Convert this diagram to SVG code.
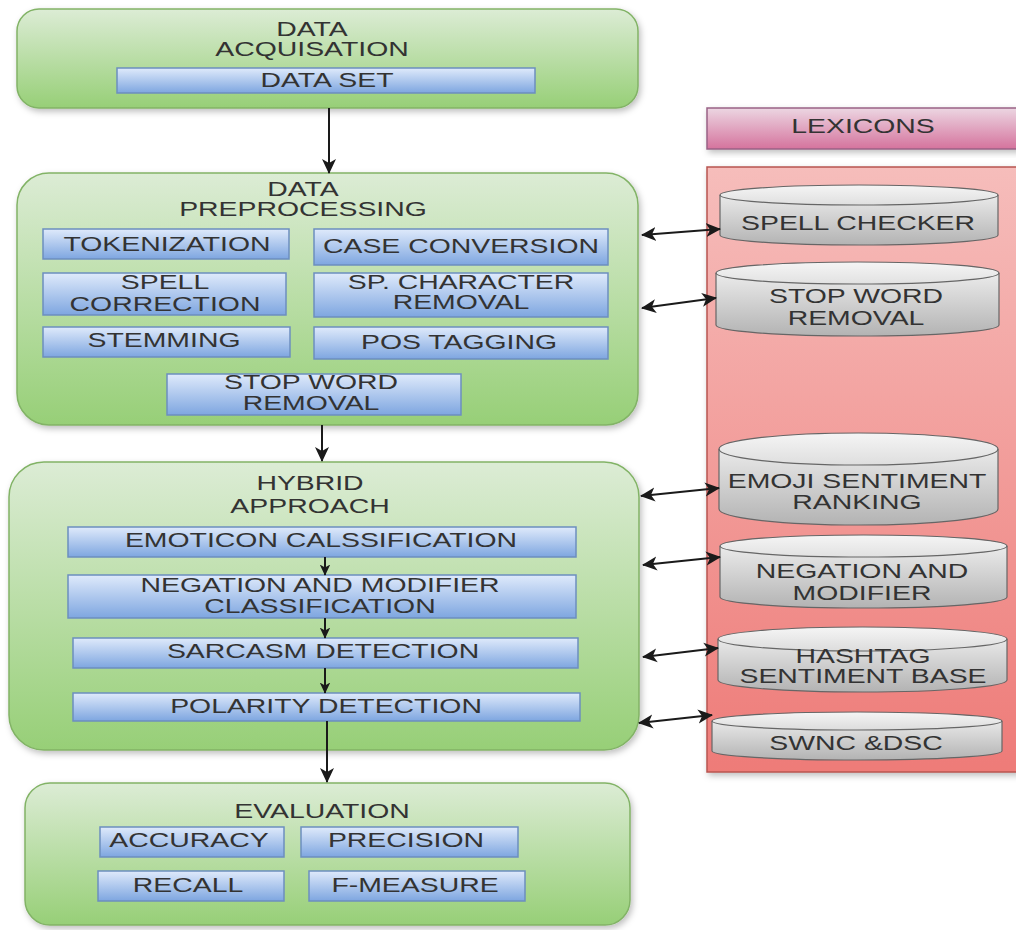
<svg xmlns="http://www.w3.org/2000/svg" width="1016" height="930" viewBox="0 0 1016 930">
<defs>
<linearGradient id="gG" x1="0" y1="0" x2="0" y2="1"><stop offset="0" stop-color="#dcecd5"/><stop offset="1" stop-color="#97cf77"/></linearGradient>
<linearGradient id="gB" x1="0" y1="0" x2="0" y2="1"><stop offset="0" stop-color="#dfeafb"/><stop offset="1" stop-color="#7ea6e0"/></linearGradient>
<linearGradient id="gC" x1="0" y1="0" x2="0" y2="1"><stop offset="0" stop-color="#f5f5f5"/><stop offset="1" stop-color="#b3b3b3"/></linearGradient>
<linearGradient id="gH" x1="0" y1="0" x2="0" y2="1"><stop offset="0" stop-color="#ecd6e2"/><stop offset="1" stop-color="#d5739d"/></linearGradient>
<linearGradient id="gR" x1="0" y1="0" x2="0" y2="1"><stop offset="0" stop-color="#f6bdbb"/><stop offset="1" stop-color="#ee7b78"/></linearGradient>
<filter id="sh" x="-10%" y="-10%" width="120%" height="130%"><feDropShadow dx="2" dy="3" stdDeviation="3" flood-color="#000" flood-opacity="0.25"/></filter>
<marker id="ah" viewBox="0 0 16 16" markerWidth="16" markerHeight="16" refX="14" refY="8" orient="auto-start-reverse" markerUnits="userSpaceOnUse"><path d="M0,1 L15,8 L0,15 L4,8 z" fill="#1a1a1a"/></marker>
<marker id="as" viewBox="0 0 16 16" markerWidth="12" markerHeight="12" refX="14" refY="8" orient="auto" markerUnits="userSpaceOnUse"><path d="M0,1 L15,8 L0,15 L4,8 z" fill="#1a1a1a"/></marker>
</defs>
<style>
.g{fill:url(#gG);stroke:#82b366;stroke-width:1.5;filter:url(#sh)}
.b{fill:url(#gB);stroke:#6c8ebf;stroke-width:1.5}
.c{fill:url(#gC);stroke:#666;stroke-width:1.2}
.ce{fill:none;stroke:#666;stroke-width:1.2}
.t{font-family:"Liberation Sans",Arial,sans-serif;font-size:20px;fill:#333;text-anchor:middle}
.cn{stroke:#1a1a1a;stroke-width:2;fill:none}
</style>
<rect width="1016" height="930" fill="#fff"/>

<g id="lexicons-header">
<rect x="707" y="108" width="312" height="41" fill="url(#gH)" stroke="#996185" stroke-width="1.5" filter="url(#sh)"/>
<text class="t" transform="translate(863,133) scale(1.42,1)">LEXICONS</text>
</g>
<g id="lexicons-container">
<rect x="707" y="167" width="312" height="605" fill="url(#gR)" stroke="#b85450" stroke-width="1.5" filter="url(#sh)"/>
</g>

<g id="data-acquisation">
<rect class="g" x="17" y="9" width="621" height="99" rx="22"/>
<text class="t" transform="translate(312,36) scale(1.42,1)">DATA<tspan x="0" dy="20.5">ACQUISATION</tspan></text>
</g>
<g id="data-set">
<rect class="b" x="117" y="68" width="418" height="25"/>
<text class="t" transform="translate(327,87) scale(1.42,1)">DATA SET</text>
</g>

<g id="data-preprocessing">
<rect class="g" x="17" y="173" width="621" height="252" rx="32"/>
<text class="t" transform="translate(303,196) scale(1.42,1)">DATA<tspan x="0" dy="20.5">PREPROCESSING</tspan></text>
</g>
<g id="tokenization">
<rect class="b" x="43" y="229" width="246" height="30"/>
<text class="t" transform="translate(167,251) scale(1.42,1)">TOKENIZATION</text>
</g>
<g id="case-conversion">
<rect class="b" x="314" y="229" width="294" height="36"/>
<text class="t" transform="translate(461,253) scale(1.42,1)">CASE CONVERSION</text>
</g>
<g id="spell-correction">
<rect class="b" x="43" y="273" width="243" height="42"/>
<text class="t" transform="translate(165,289) scale(1.42,1)">SPELL<tspan x="0" dy="22">CORRECTION</tspan></text>
</g>
<g id="sp-character-removal">
<rect class="b" x="314" y="273" width="294" height="44"/>
<text class="t" transform="translate(461,289) scale(1.42,1)">SP. CHARACTER<tspan x="0" dy="20.5">REMOVAL</tspan></text>
</g>
<g id="stemming">
<rect class="b" x="43" y="327" width="247" height="30"/>
<text class="t" transform="translate(164,347) scale(1.42,1)">STEMMING</text>
</g>
<g id="pos-tagging">
<rect class="b" x="314" y="327" width="294" height="32"/>
<text class="t" transform="translate(459,349) scale(1.42,1)">POS TAGGING</text>
</g>
<g id="stop-word-removal-step">
<rect class="b" x="167" y="374" width="294" height="41"/>
<text class="t" transform="translate(311,389) scale(1.42,1)">STOP WORD<tspan x="0" dy="21">REMOVAL</tspan></text>
</g>

<g id="hybrid-approach">
<rect class="g" x="9" y="462" width="630" height="288" rx="35"/>
<text class="t" transform="translate(310,490) scale(1.42,1)">HYBRID<tspan x="0" dy="23">APPROACH</tspan></text>
</g>
<g id="emoticon-classification">
<rect class="b" x="68" y="527" width="508" height="30"/>
<text class="t" transform="translate(321,547) scale(1.42,1)">EMOTICON CALSSIFICATION</text>
</g>
<g id="negation-modifier-classification">
<rect class="b" x="68" y="575" width="508" height="43"/>
<text class="t" transform="translate(320,592) scale(1.42,1)">NEGATION AND MODIFIER<tspan x="0" dy="21">CLASSIFICATION</tspan></text>
</g>
<g id="sarcasm-detection">
<rect class="b" x="73" y="638" width="505" height="30"/>
<text class="t" transform="translate(323,658) scale(1.42,1)">SARCASM DETECTION</text>
</g>
<g id="polarity-detection">
<rect class="b" x="73" y="693" width="507" height="28"/>
<text class="t" transform="translate(326,713) scale(1.42,1)">POLARITY DETECTION</text>
</g>

<g id="evaluation">
<rect class="g" x="25" y="783" width="605" height="142" rx="25"/>
<text class="t" transform="translate(322,818) scale(1.42,1)">EVALUATION</text>
</g>
<g id="accuracy">
<rect class="b" x="100" y="827" width="184" height="30"/>
<text class="t" transform="translate(189,847) scale(1.42,1)">ACCURACY</text>
</g>
<g id="precision">
<rect class="b" x="301" y="827" width="217" height="30"/>
<text class="t" transform="translate(406,847) scale(1.42,1)">PRECISION</text>
</g>
<g id="recall">
<rect class="b" x="98" y="871" width="186" height="30"/>
<text class="t" transform="translate(188,892) scale(1.42,1)">RECALL</text>
</g>
<g id="f-measure">
<rect class="b" x="309" y="871" width="216" height="30"/>
<text class="t" transform="translate(415,892) scale(1.42,1)">F-MEASURE</text>
</g>

<g id="spell-checker">
<path class="c" d="M720,195 a139,10 0 0 1 278,0 v40 a139,10 0 0 1 -278,0 z"/>
<path class="ce" d="M720,195 a139,10 0 0 0 278,0"/>
<text class="t" transform="translate(858,230) scale(1.42,1)">SPELL CHECKER</text>
</g>
<g id="stop-word-removal-lexicon">
<path class="c" d="M716,273 a141.5,11 0 0 1 283,0 v52 a141.5,11 0 0 1 -283,0 z"/>
<path class="ce" d="M716,273 a141.5,11 0 0 0 283,0"/>
<text class="t" transform="translate(856,303) scale(1.42,1)">STOP WORD<tspan x="0" dy="22">REMOVAL</tspan></text>
</g>
<g id="emoji-sentiment-ranking">
<path class="c" d="M719,449 a139.5,16 0 0 1 279,0 v60 a139.5,16 0 0 1 -279,0 z"/>
<path class="ce" d="M719,449 a139.5,16 0 0 0 279,0"/>
<text class="t" transform="translate(857,488) scale(1.42,1)">EMOJI SENTIMENT<tspan x="0" dy="21">RANKING</tspan></text>
</g>
<g id="negation-and-modifier">
<path class="c" d="M720,546 a143.5,11 0 0 1 287,0 v51 a143.5,11 0 0 1 -287,0 z"/>
<path class="ce" d="M720,546 a143.5,11 0 0 0 287,0"/>
<text class="t" transform="translate(862,578) scale(1.42,1)">NEGATION AND<tspan x="0" dy="22">MODIFIER</tspan></text>
</g>
<g id="hashtag-sentiment-base">
<path class="c" d="M718,639 a144.5,12 0 0 1 289,0 v41 a144.5,12 0 0 1 -289,0 z"/>
<path class="ce" d="M718,639 a144.5,12 0 0 0 289,0"/>
<text class="t" transform="translate(863,663) scale(1.42,1)">HASHTAG<tspan x="0" dy="20.5">SENTIMENT BASE</tspan></text>
</g>
<g id="swnc-dsc">
<path class="c" d="M712,721 a145,9 0 0 1 290,0 v30 a145,9 0 0 1 -290,0 z"/>
<path class="ce" d="M712,721 a145,9 0 0 0 290,0"/>
<text class="t" transform="translate(856,750) scale(1.42,1)">SWNC &amp;DSC</text>
</g>

<g id="connectors">
<line class="cn" x1="329" y1="108" x2="329" y2="173" marker-end="url(#ah)"/>
<line class="cn" x1="322" y1="425" x2="322" y2="461" marker-end="url(#ah)"/>
<line class="cn" x1="327" y1="721" x2="327" y2="782" marker-end="url(#ah)"/>
<line class="cn" x1="325" y1="557" x2="325" y2="575" marker-end="url(#as)"/>
<line class="cn" x1="325" y1="618" x2="325" y2="638" marker-end="url(#as)"/>
<line class="cn" x1="325" y1="668" x2="325" y2="693" marker-end="url(#as)"/>
<line class="cn" x1="642" y1="235" x2="720" y2="229" marker-start="url(#ah)" marker-end="url(#ah)"/>
<line class="cn" x1="642" y1="308" x2="716" y2="298" marker-start="url(#ah)" marker-end="url(#ah)"/>
<line class="cn" x1="641" y1="496" x2="719" y2="488" marker-start="url(#ah)" marker-end="url(#ah)"/>
<line class="cn" x1="643" y1="565" x2="720" y2="557" marker-start="url(#ah)" marker-end="url(#ah)"/>
<line class="cn" x1="643" y1="657" x2="718" y2="648" marker-start="url(#ah)" marker-end="url(#ah)"/>
<line class="cn" x1="639" y1="723" x2="712" y2="715" marker-start="url(#ah)" marker-end="url(#ah)"/>
</g>
</svg>
